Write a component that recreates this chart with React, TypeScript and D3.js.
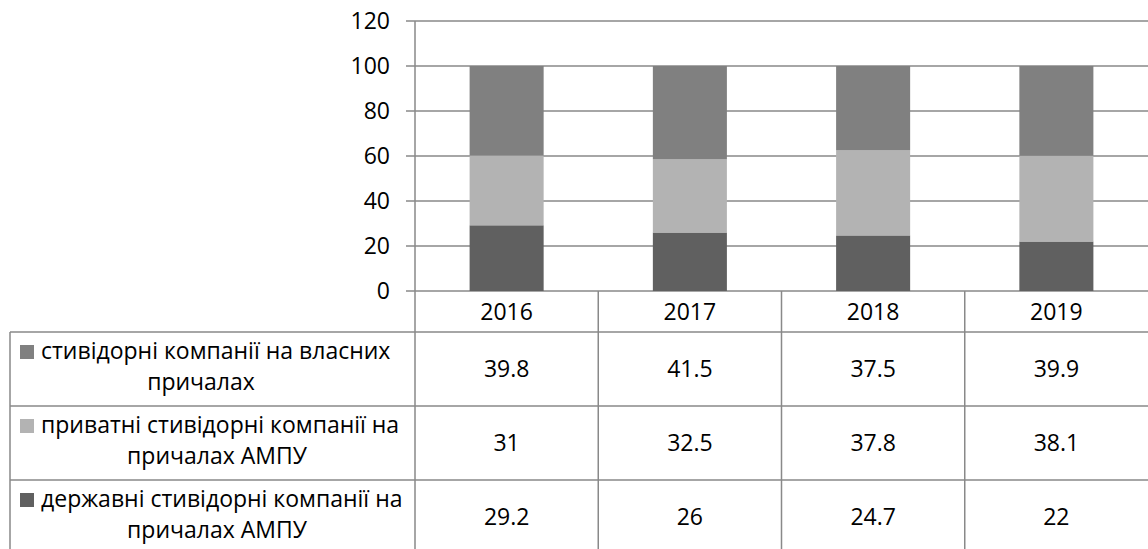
import React from "react";
import * as d3 from "d3";

const years = ["2016", "2017", "2018", "2019"];
const seriesNames = [
  ["стивідорні компанії на власних", "причалах"],
  ["приватні стивідорні компанії на", "причалах АМПУ"],
  ["державні стивідорні компанії на", "причалах АМПУ"],
];
const ownBerths = [39.8, 41.5, 37.5, 39.9];
const privateAmpu = [31, 32.5, 37.8, 38.1];
const stateAmpu = [29.2, 26, 24.7, 22];
const seriesColors = ["#808080", "#b3b3b3", "#606060"];
const yTicks = [0, 20, 40, 60, 80, 100, 120];

const W = 1148;
const H = 549;
const FONT = "'Open Sans', sans-serif";
const FS = 23;

export default function App() {
  const plotLeft = 415;
  const plotRight = 1148;
  const y = d3.scaleLinear().domain([0, 120]).range([291, 21]);
  const x = d3.scaleBand<string>().domain(years).range([plotLeft, plotRight]).padding(0);
  const barW = x.bandwidth() * 0.404;

  const rows = years.map((yr, i) => ({
    year: yr,
    state: stateAmpu[i],
    priv: privateAmpu[i],
    own: ownBerths[i],
  }));
  const stack = d3.stack<any>().keys(["state", "priv", "own"])(rows);
  const stackColors = [seriesColors[2], seriesColors[1], seriesColors[0]];

  const tableValues = [ownBerths, privateAmpu, stateAmpu];
  const rowTops = [332, 406, 480, 554];
  const line2Centers = [201, 217, 217];
  const gridColor = "#898989";

  return (
    <div style={{ position: "absolute", left: 0, top: 0 }}>
      <svg width={W} height={H} style={{ display: "block", background: "#fff" }} fontFamily={FONT}>
        {yTicks.map((t) => (
          <line key={"g" + t} x1={406} x2={plotRight} y1={y(t)} y2={y(t)} stroke={gridColor} strokeWidth={1.5} />
        ))}
        {yTicks.map((t) => (
          <text key={"t" + t} x={390} y={y(t)} dy="0.36em" textAnchor="end" fontSize={FS} fill="#000">
            {t}
          </text>
        ))}
        {stack.map((s, si) =>
          s.map((d, i) => (
            <rect
              key={si + "-" + i}
              x={(x(years[i]) as number) + x.bandwidth() / 2 - barW / 2}
              width={barW}
              y={y(d[1])}
              height={y(d[0]) - y(d[1])}
              fill={stackColors[si]}
            />
          ))
        )}
        <line x1={plotLeft} x2={plotLeft} y1={y(120)} y2={H} stroke={gridColor} strokeWidth={1.5} />
        {years.slice(1).map((yr) => (
          <line key={"c" + yr} x1={x(yr) as number} x2={x(yr) as number} y1={y(0)} y2={H} stroke={gridColor} strokeWidth={1.5} />
        ))}
        {rowTops.slice(0, 3).map((ty) => (
          <line key={"r" + ty} x1={10} x2={plotRight} y1={ty} y2={ty} stroke={gridColor} strokeWidth={1.5} />
        ))}
        <line x1={10} x2={10} y1={332} y2={H} stroke={gridColor} strokeWidth={1.5} />
        {years.map((yr) => (
          <text key={"h" + yr} x={(x(yr) as number) + x.bandwidth() / 2} y={(291 + 332) / 2} dy="0.36em" textAnchor="middle" fontSize={FS} fill="#000">
            {yr}
          </text>
        ))}
        {tableValues.map((vals, r) =>
          vals.map((v, i) => (
            <text
              key={"v" + r + i}
              x={(x(years[i]) as number) + x.bandwidth() / 2}
              y={rowTops[r] + 37}
              dy="0.36em"
              textAnchor="middle"
              fontSize={FS}
              fill="#000"
            >
              {String(v)}
            </text>
          ))
        )}
        {seriesNames.map((lines, r) => {
          const cy = rowTops[r] + 37;
          return (
            <g key={"l" + r}>
              <rect x={20} y={cy - 24} width={14} height={14} fill={seriesColors[r]} />
              <text x={41} y={cy - 10} fontSize={FS} fill="#000">
                {lines[0]}
              </text>
              <text x={line2Centers[r]} y={cy + 21} textAnchor="middle" fontSize={FS} fill="#000">
                {lines[1]}
              </text>
            </g>
          );
        })}
      </svg>
    </div>
  );
}
